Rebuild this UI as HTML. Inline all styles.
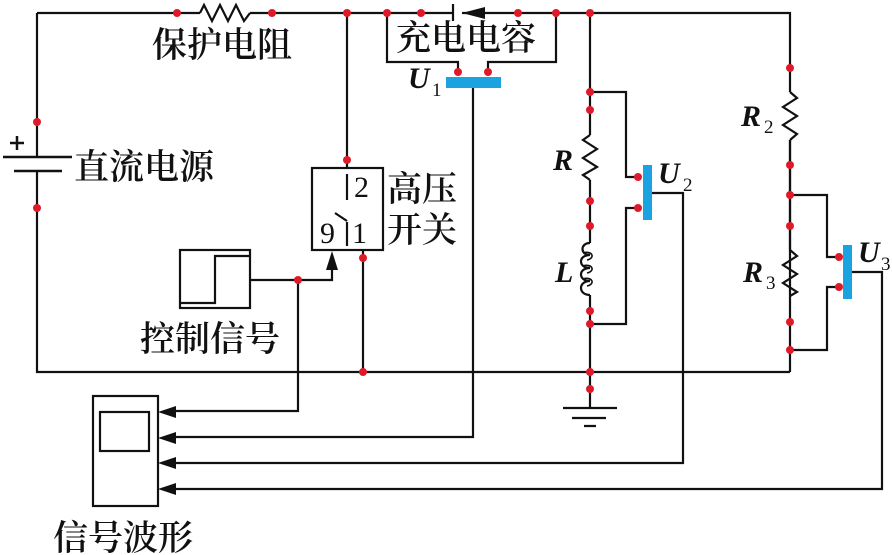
<!DOCTYPE html>
<html><head><meta charset="utf-8"><style>
html,body{margin:0;padding:0;background:#fff;}
svg{display:block;}
.c{font-family:"Liberation Serif","Noto Serif CJK SC","Noto Sans CJK SC",serif;font-size:35px;font-weight:600;fill:#111;}
.i{font-family:"Liberation Serif",serif;font-style:italic;font-weight:bold;font-size:30px;fill:#111;}
.s{font-family:"Liberation Serif",serif;font-size:19px;fill:#111;}
.n{font-family:"Liberation Serif",serif;font-size:30px;fill:#111;}
</style></head><body>
<svg width="892" height="555" viewBox="0 0 892 555" xmlns="http://www.w3.org/2000/svg">
<g stroke="#111" stroke-width="2.2" fill="none">
<path d="M37 13H200 M250 13H453 M462 13H790V92 M790 140V350H827V287H839 M790 195H827V257H839 M790 350V372"/>
<path d="M200 13 L204 5 L212 21 L220 5 L228 21 L236 5 L244 21 L250 13"/>
<path d="M453 4V21"/>
<path d="M37 13V157 M37 170V372H790"/>
<path d="M3 157H72 M14 171H62" stroke-width="2.5"/>
<path d="M10 143H24 M17 136V150" stroke-width="2.5"/>
<path d="M387 13V62H458V72 M488 72V62H556V13"/>
<path d="M473 88V437H170"/>
<path d="M347 13V168"/>
<rect x="312" y="168" width="71" height="82"/>
<path d="M347 174V200 M347 222V246 M335 213L347 221"/>
<path d="M363 250V372"/>
<path d="M250 280H332V266 M298 280V411H170"/>
<rect x="180" y="250" width="70" height="58"/>
<path d="M180 303H215V256H250"/>
<path d="M590 13V135 M590 180V243 M590 295V408"/>
<path d="M590 135L583 140L597 149L583 158L597 167L583 175L590 180"/>
<path d="M590 243 C580 243 580 255 590 255 C578 255 578 268 590 268 C578 268 578 281 590 281 C578 281 578 295 590 295"/>
<path d="M583 253C592 250 596 258 587 260 M583 266C592 263 596 271 587 273 M583 279C592 276 596 284 587 286" stroke-width="1.6"/>
<path d="M590 92H626V177H638 M638 208H626V324H590"/>
<path d="M652 193H683V463H170"/>
<path d="M563 408H617 M572 418H606 M584 426H596"/>
<path d="M790 92L797 98L783 107L797 116L783 125L797 134L790 140"/>
<path d="M790 140V250"/>
<path d="M790 250L797 256L783 265L797 274L783 283L797 292L790 296"/>
<path d="M852 272H882V489H170"/>
<rect x="93" y="396" width="65" height="110"/>
<rect x="100" y="412" width="49" height="39"/>
</g>
<g fill="#111">
<polygon points="462,13 485,7 485,19"/>
<polygon points="332,251 326,270 338,270"/>
<polygon points="158,412 176,406 176,418"/>
<polygon points="158,438 176,432 176,444"/>
<polygon points="158,463 176,457 176,469"/>
<polygon points="158,489 176,483 176,495"/>
</g>
<g fill="#1aa3e0">
<rect x="446" y="77" width="55" height="11"/>
<rect x="643" y="165" width="9" height="55"/>
<rect x="843" y="245" width="9" height="54"/>
</g>
<g fill="#e0192a">
<circle cx="37" cy="122" r="4"/><circle cx="37" cy="208" r="4"/>
<circle cx="177" cy="13" r="4"/><circle cx="272" cy="13" r="4"/>
<circle cx="347" cy="13" r="4"/><circle cx="387" cy="13" r="4"/><circle cx="421" cy="13" r="4"/>
<circle cx="518" cy="13" r="4"/><circle cx="556" cy="13" r="4"/><circle cx="590" cy="13" r="4"/>
<circle cx="458" cy="72" r="4"/><circle cx="488" cy="72" r="4"/>
<circle cx="347" cy="160" r="4"/><circle cx="363" cy="258" r="4"/><circle cx="363" cy="372" r="4"/>
<circle cx="298" cy="280" r="4"/>
<circle cx="590" cy="92" r="4"/><circle cx="590" cy="110" r="4"/><circle cx="590" cy="201" r="4"/>
<circle cx="590" cy="226" r="4"/><circle cx="590" cy="311" r="4"/><circle cx="590" cy="324" r="4"/>
<circle cx="590" cy="372" r="4"/><circle cx="590" cy="389" r="4"/>
<circle cx="638" cy="177" r="4"/><circle cx="638" cy="208" r="4"/>
<circle cx="790" cy="68" r="4"/><circle cx="790" cy="165" r="4"/><circle cx="790" cy="195" r="4"/>
<circle cx="790" cy="226" r="4"/><circle cx="790" cy="322" r="4"/><circle cx="790" cy="350" r="4"/>
<circle cx="839" cy="257" r="4"/><circle cx="839" cy="287" r="4"/>
</g>
<text class="c" x="152" y="57">保护电阻</text>
<text class="c" x="396" y="50">充电电容</text>
<text class="c" x="74" y="179">直流电源</text>
<text class="c" x="387" y="201">高压</text>
<text class="c" x="387" y="242">开关</text>
<text class="c" x="140" y="351">控制信号</text>
<text class="c" x="53" y="550">信号波形</text>
<text class="n" x="354" y="197">2</text>
<text class="n" x="320" y="243">9</text>
<text class="n" x="352" y="243">1</text>
<text class="i" x="408" y="88">U</text><text class="s" x="432" y="96">1</text>
<text class="i" x="658" y="183">U</text><text class="s" x="683" y="191">2</text>
<text class="i" x="858" y="262">U</text><text class="s" x="881" y="270">3</text>
<text class="i" x="553" y="170">R</text>
<text class="i" x="555" y="282">L</text>
<text class="i" x="741" y="126">R</text><text class="s" x="764" y="133">2</text>
<text class="i" x="743" y="282">R</text><text class="s" x="766" y="289">3</text>
</svg>
</body></html>
